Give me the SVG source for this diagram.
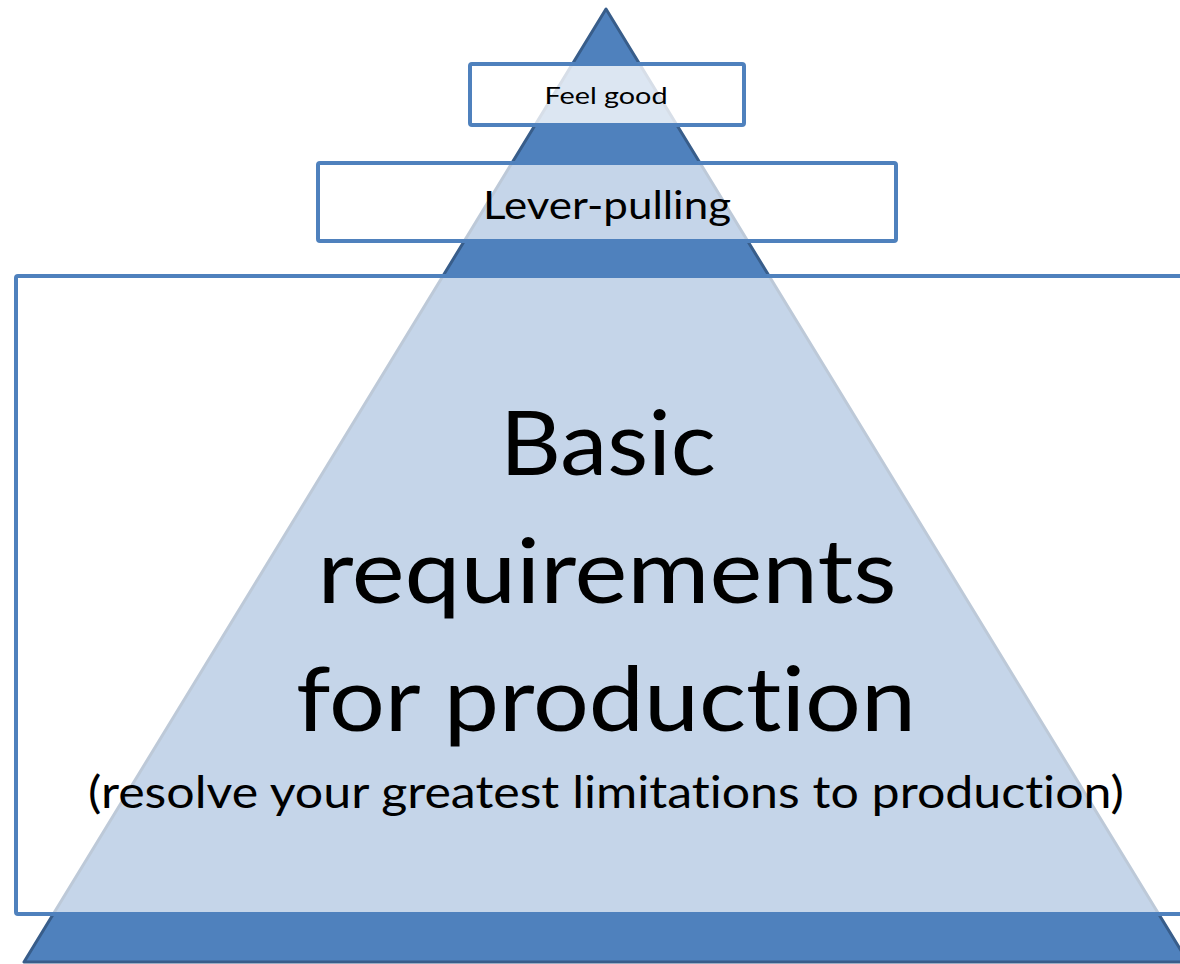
<svg xmlns="http://www.w3.org/2000/svg" width="1180" height="964" viewBox="0 0 1180 964">
<style>
.tri{fill:#4F81BD;stroke:#385D8A;stroke-width:3;stroke-linejoin:round}
.box{stroke:#4F81BD;stroke-width:4;fill:#FFFFFF}
.t{font-family:Lato,"Liberation Sans",sans-serif;fill:#000;text-anchor:middle;font-variant-ligatures:none;font-feature-settings:"liga" 0}
</style>
<rect width="1180" height="964" fill="#FFFFFF"/>
<g id="pyramid">
<polygon class="tri" points="606,9 24,962 1188,962"/>
</g>
<g id="basic">
<rect class="box" x="16" y="276" width="1180" height="638" rx="2" fill-opacity="0.67"/>
<text class="t" x="608" y="475" font-size="90" textLength="216" lengthAdjust="spacingAndGlyphs">Basic</text>
<text class="t" x="607" y="603" font-size="90" textLength="579" lengthAdjust="spacingAndGlyphs">requirements</text>
<text class="t" x="606" y="731" font-size="90" textLength="620" lengthAdjust="spacingAndGlyphs">for production</text>
<text class="t" x="606" y="808" font-size="45" textLength="1036" lengthAdjust="spacingAndGlyphs">(resolve your greatest limitations to production)</text>
</g>
<g id="lever">
<rect class="box" x="318" y="163" width="578" height="78" rx="2" fill-opacity="0.67"/>
<text class="t" x="607" y="219" font-size="39" textLength="248" lengthAdjust="spacingAndGlyphs">Lever-pulling</text>
</g>
<g id="feelgood">
<rect class="box" x="470" y="64" width="274" height="61" rx="2" fill-opacity="0.8"/>
<text class="t" x="606" y="104" font-size="23" textLength="123" lengthAdjust="spacingAndGlyphs">Feel good</text>
</g>
<g id="connectors"/>
</svg>
